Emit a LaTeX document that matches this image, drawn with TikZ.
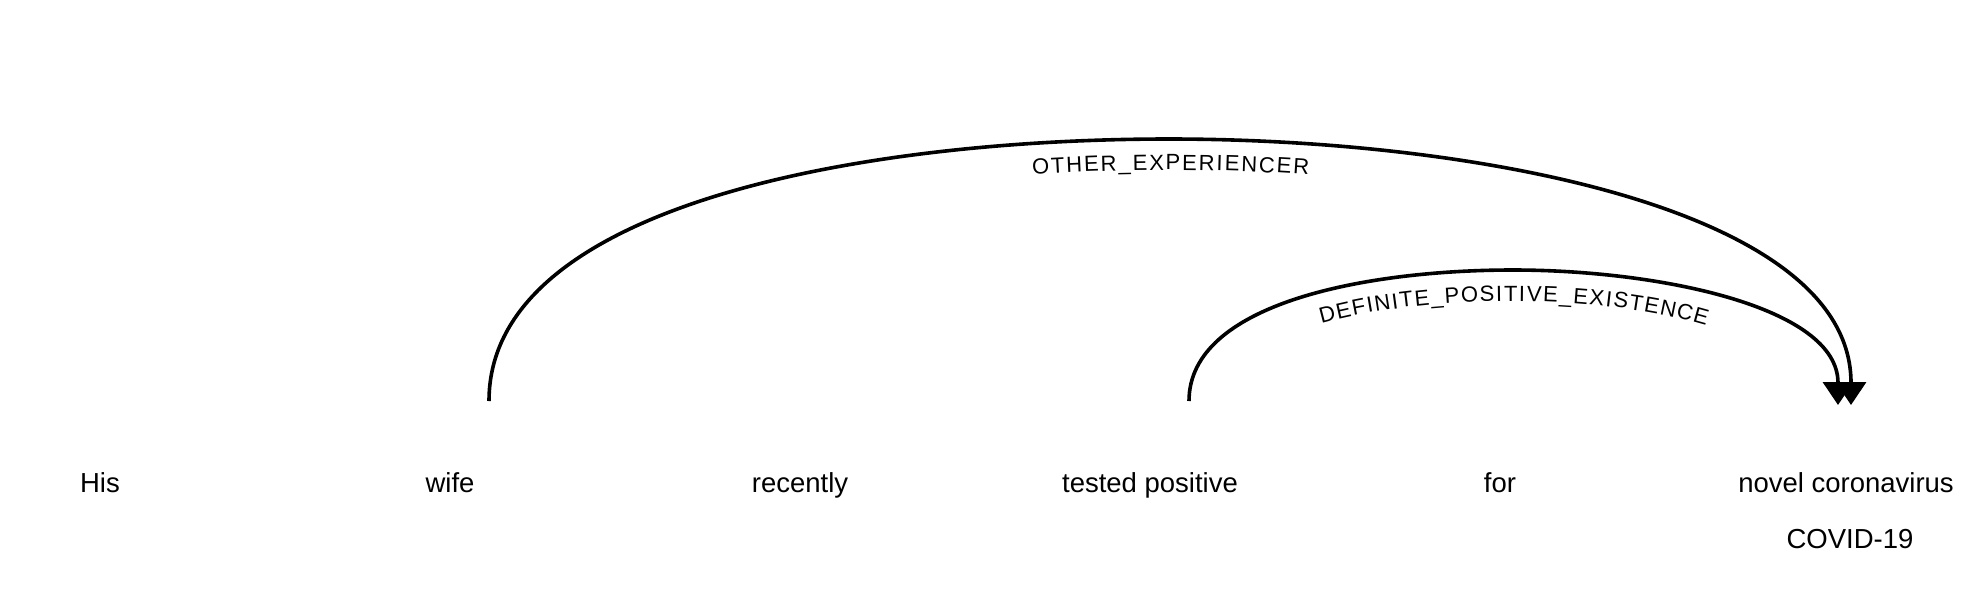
\documentclass[tikz,border=0pt]{standalone}
\usepackage{fontspec}
\setmainfont{Liberation Sans}
% narrow spaces give the spaced letters of the arc labels
\newfontfamily\arclabelfont[WordSpace=0.34]{Liberation Sans}
\usetikzlibrary{arrows.meta}
\usetikzlibrary{decorations.text}

\tikzset{
  wordnode/.style={anchor=base, inner sep=0pt, font=\fontsize{13.75pt}{16pt}\selectfont},
  relarc/.style={line width=1.8pt, -{Triangle[width=15pt,length=11.5pt]}},
}

\begin{document}
\begin{tikzpicture}[x=0.5pt,y=-0.5pt]
    \useasboundingbox (0,0) rectangle (1988,596);
    \node[wordnode] (his) at (100,492) {His};
    \node[wordnode] (wife) at (450,492) {wife};
    \node[wordnode] (recently) at (800,492) {recently};
    \node[wordnode] (tested) at (1150,492) {tested positive};
    \node[wordnode] (for) at (1500,492) {for};
    \node[wordnode] (novel) at (1846,492) {novel coronavirus};
    \node[wordnode] (covid) at (1850,548) {COVID-19};
    \coordinate (wife-out) at (489,401);
    \coordinate (tested-out) at (1189,401);
    \coordinate (novel-in1) at (1851,405);
    \coordinate (novel-in2) at (1838,405);
    \coordinate (top1) at (1169,139);
    \coordinate (top2) at (1513,270);
    \draw[relarc, postaction={decorate, decoration={text along path, text align=center, raise=-15.5pt,
        text={|\arclabelfont\fontsize{11pt}{13pt}\selectfont|O T H E R {\_} E X P E R I E N C E R}}}]
      (wife-out) .. controls +(0,-196) and +(-306,0) .. (top1) .. controls +(306,0) and +(0,-196) .. (novel-in1);
    \draw[relarc, postaction={decorate, decoration={text along path, text align=center, raise=-15.5pt,
        text={|\arclabelfont\fontsize{11pt}{13pt}\selectfont|D E F I N I T E {\_} P O S I T I V E {\_} E X I S T E N C E}}}]
      (tested-out) .. controls +(0,-98) and +(-146,0) .. (top2) .. controls +(146,0) and +(0,-98) .. (novel-in2);
\end{tikzpicture}
\end{document}
